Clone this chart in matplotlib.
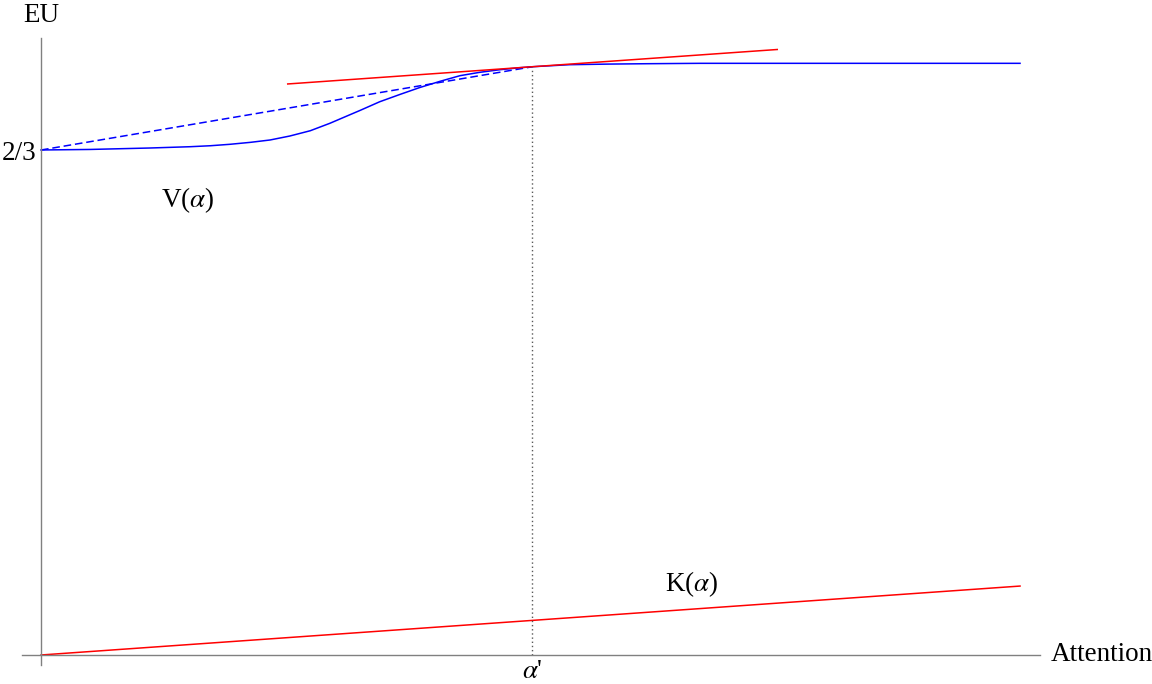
import numpy as np
import matplotlib.pyplot as plt

plt.rcParams["font.family"] = ["Liberation Serif", "DejaVu Serif"]
plt.rcParams["mathtext.fontset"] = "stix"

# V(alpha): attention vs expected utility
v_x = [0.0, 0.050, 0.111, 0.152, 0.173, 0.193, 0.214, 0.234, 0.254, 0.275,
       0.295, 0.316, 0.326, 0.346, 0.367, 0.387, 0.408, 0.428, 0.448, 0.469,
       0.489, 0.502, 0.540, 0.580, 0.620, 0.673, 1.0]
v_y = [0.6667, 0.6674, 0.6693, 0.6710, 0.6723, 0.6742, 0.6768, 0.6799, 0.6851,
       0.6921, 0.7019, 0.7135, 0.7190, 0.7304, 0.7402, 0.7492, 0.7575, 0.7648,
       0.7692, 0.7727, 0.7753, 0.7766, 0.7793, 0.7801, 0.7806, 0.7811, 0.7811]

# K(alpha), a straight cost line
k_x = [0.0, 1.0]
k_y = [0.0, 0.091]

alpha_prime = 0.502
v_at_alpha = 0.7766
v_start = 2 / 3
tangent_half = 0.25

fig = plt.figure(figsize=(11.52, 6.84), dpi=100)
ax = fig.add_axes([0, 0, 1, 1])
ax.set_xlim(-0.0419, 1.1348)
ax.set_ylim(-0.0383, 0.8647)

slope = (k_y[1] - k_y[0]) / (k_x[1] - k_x[0])

ax.plot(v_x, v_y, color="blue", lw=1.1, solid_joinstyle="round")
ax.plot([0, alpha_prime], [v_start, v_at_alpha], color="blue", lw=1.1, dashes=(5, 2.5))
tx = np.array([alpha_prime - tangent_half, alpha_prime + tangent_half])
ax.plot(tx, v_at_alpha + slope * (tx - alpha_prime), color="red", lw=1.1)
ax.plot(k_x, k_y, color="red", lw=1.1)
ax.plot([alpha_prime, alpha_prime], [0, v_at_alpha], color="0.35", lw=1.0,
        linestyle=(0, (1, 2)))

# axes through the origin
for s in ["top", "right"]:
    ax.spines[s].set_visible(False)
ax.spines["left"].set_position(("data", 0))
ax.spines["bottom"].set_position(("data", 0))
ax.spines["left"].set_bounds(-0.0132, 0.8145)
ax.spines["bottom"].set_bounds(-0.0194, 1.0204)
for s in ["left", "bottom"]:
    ax.spines[s].set_color("0.5")
    ax.spines[s].set_linewidth(1.0)

ax.set_xticks([alpha_prime])
ax.set_xticklabels([r"$\alpha$'"])
ax.set_yticks([v_start])
ax.set_yticklabels(["2/3"])
ax.tick_params(axis="both", length=0, labelsize=19.5)
ax.tick_params(axis="x", pad=3)
ax.tick_params(axis="y", pad=3)

ax.text(0, 0.8436, "EU", fontsize=19.5, ha="center", va="center")
ax.text(1.031, 0, "Attention", fontsize=19.5, ha="left", va="center")
ax.text(0.150, 0.601, r"V($\alpha$)", fontsize=19.5, ha="center", va="center")
ax.text(0.665, 0.094, r"K($\alpha$)", fontsize=19.5, ha="center", va="center")

fig.savefig("out.png", dpi=100)
